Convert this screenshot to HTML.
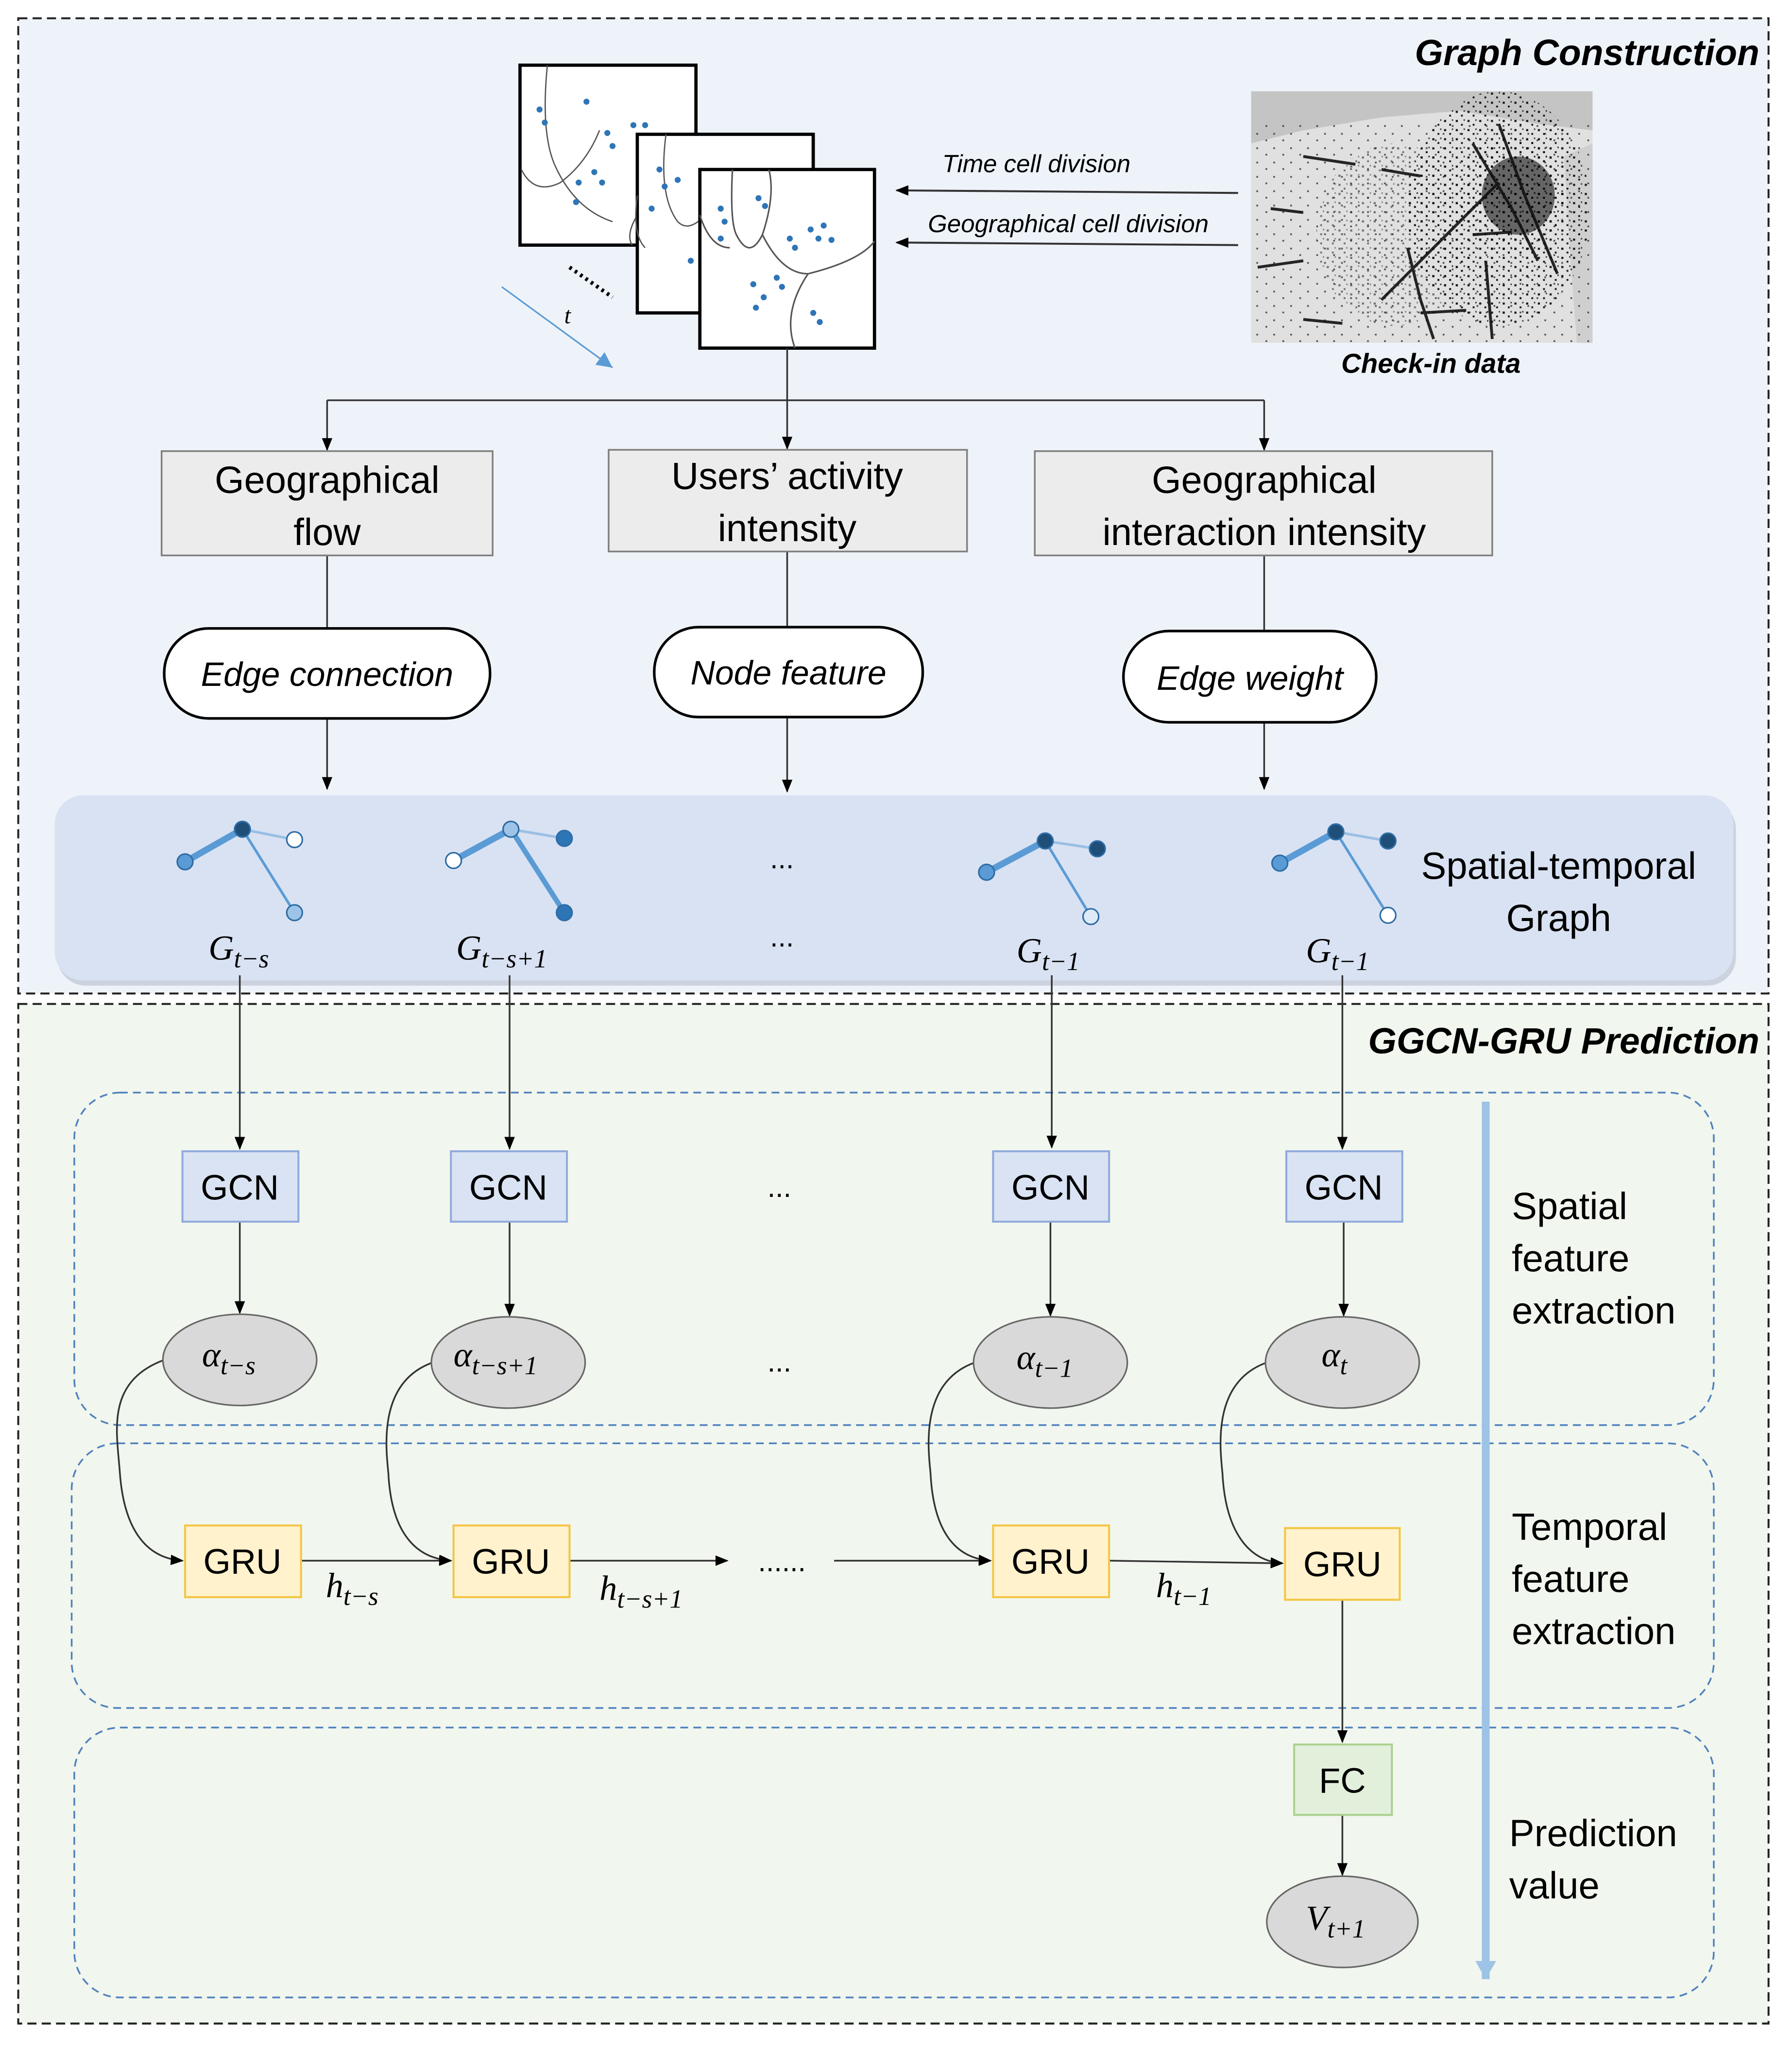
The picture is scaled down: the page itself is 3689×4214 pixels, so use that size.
<!DOCTYPE html>
<html><head><meta charset="utf-8">
<style>
html,body{margin:0;padding:0;background:#fff;}
svg{display:block;}
</style></head>
<body>
<svg width="3689" height="4214" viewBox="0 0 1375 1570" preserveAspectRatio="none" xmlns="http://www.w3.org/2000/svg" font-family="Liberation Sans, DejaVu Sans, sans-serif">
<defs>
<marker id="ar" markerWidth="10" markerHeight="10" refX="9" refY="5" orient="auto" markerUnits="userSpaceOnUse">
<path d="M0,1 L10,5 L0,9 z" fill="#000"/></marker>
<marker id="ab" markerWidth="14" markerHeight="14" refX="12" refY="6" orient="auto" markerUnits="userSpaceOnUse">
<path d="M0,0 L12,6 L0,12 z" fill="#5b9bd5"/></marker>
<marker id="av" markerWidth="16" markerHeight="16" refX="14" refY="8" orient="auto" markerUnits="userSpaceOnUse">
<path d="M0,0 L14,8 L0,16 z" fill="#9dc3e6"/></marker>
<pattern id="dots" width="9" height="7" patternUnits="userSpaceOnUse">
<rect x="1" y="1" width="1.6" height="1.6" fill="#000"/><rect x="5" y="4" width="1.4" height="1.4" fill="#000"/><rect x="7" y="0.5" width="1" height="1.2" fill="#222"/>
</pattern>
<pattern id="dots2" width="13" height="11" patternUnits="userSpaceOnUse">
<rect x="2" y="3" width="1.3" height="1.3" fill="#111"/><rect x="9" y="8" width="1.3" height="1.3" fill="#111"/>
</pattern>
<clipPath id="mapc"><rect x="960" y="70" width="262" height="193"/></clipPath>
</defs>
<rect width="1375" height="1570" fill="#fff"/>
<rect x="14" y="14" width="1343" height="748" fill="#eef3f9" stroke="#222" stroke-width="1.5" stroke-dasharray="7,4"/>
<rect x="14" y="770" width="1343" height="782" fill="#f1f6ee" stroke="#222" stroke-width="1.5" stroke-dasharray="7,4"/>
<text x="1350" y="50" text-anchor="end" font-size="28" font-weight="bold" font-style="italic">Graph Construction</text>
<text x="1350" y="808" text-anchor="end" font-size="28" font-weight="bold" font-style="italic">GGCN-GRU Prediction</text>

<rect x="399" y="50" width="135" height="138" fill="#fff" stroke="#000" stroke-width="2.5"/>
<g fill="none" stroke="#555" stroke-width="1">
<path d="M420 50 Q415 100 425 125 Q440 160 470 170 M400 130 Q410 150 430 140 Q450 125 460 100 M489 165 Q480 180 485 188"/>
</g>
<g fill="#2e75b6">
<circle cx="414" cy="84" r="2.3"/><circle cx="418" cy="94" r="2.3"/><circle cx="450" cy="78" r="2.3"/><circle cx="466" cy="102" r="2.3"/><circle cx="470" cy="112" r="2.3"/><circle cx="486" cy="96" r="2.3"/><circle cx="495" cy="96" r="2.3"/><circle cx="444" cy="140" r="2.3"/><circle cx="456" cy="132" r="2.3"/><circle cx="442" cy="155" r="2.3"/><circle cx="462" cy="140" r="2.3"/>
</g>
<rect x="489" y="103" width="135" height="137" fill="#fff" stroke="#000" stroke-width="2.5"/>
<g fill="none" stroke="#555" stroke-width="1"><path d="M511 103 Q505 150 520 170 Q530 180 545 160 M489 150 Q485 180 495 190"/></g>
<g fill="#2e75b6"><circle cx="506" cy="130" r="2.3"/><circle cx="510" cy="143" r="2.3"/><circle cx="520" cy="138" r="2.3"/><circle cx="500" cy="160" r="2.3"/></g>
<rect x="537" y="130" width="134" height="137" fill="#fff" stroke="#000" stroke-width="2.5"/>
<g fill="none" stroke="#555" stroke-width="1.2">
<path d="M562 130 Q560 170 565 180 Q575 200 585 180 Q595 150 590 130"/>
<path d="M537 165 Q545 190 560 190"/>
<path d="M585 180 Q600 210 620 210 Q660 200 671 185"/>
<path d="M620 210 Q600 240 610 267"/>
</g>
<g fill="#2e75b6">
<circle cx="553" cy="160" r="2.3"/><circle cx="556" cy="170" r="2.3"/><circle cx="582" cy="152" r="2.3"/><circle cx="587" cy="158" r="2.3"/><circle cx="606" cy="183" r="2.3"/><circle cx="610" cy="190" r="2.3"/><circle cx="622" cy="176" r="2.3"/><circle cx="632" cy="173" r="2.3"/><circle cx="628" cy="183" r="2.3"/><circle cx="638" cy="184" r="2.3"/><circle cx="530" cy="200" r="2.3"/><circle cx="578" cy="218" r="2.3"/><circle cx="586" cy="228" r="2.3"/><circle cx="596" cy="213" r="2.3"/><circle cx="600" cy="220" r="2.3"/><circle cx="580" cy="236" r="2.3"/><circle cx="624" cy="240" r="2.3"/><circle cx="629" cy="247" r="2.3"/><circle cx="553" cy="183" r="2.3"/>
</g>
<line x1="437" y1="205" x2="470" y2="228" stroke="#000" stroke-width="3" stroke-dasharray="2,3"/>
<line x1="385" y1="220" x2="470" y2="282" stroke="#5b9bd5" stroke-width="1.2" marker-end="url(#ab)"/>
<text x="433" y="248" font-family="Liberation Serif, serif" font-style="italic" font-size="18">t</text>

<line x1="950" y1="148" x2="688" y2="146" stroke="#333" stroke-width="1.5" marker-end="url(#ar)"/>
<line x1="950" y1="188" x2="688" y2="186" stroke="#333" stroke-width="1.5" marker-end="url(#ar)"/>
<text x="723" y="132" font-size="19" font-style="italic">Time cell division</text>
<text x="712" y="178" font-size="19" font-style="italic">Geographical cell division</text>

<!-- check-in map -->
<g clip-path="url(#mapc)">
<rect x="960" y="70" width="262" height="193" fill="#e0e0e0"/>
<path d="M960 70 L1222 70 L1222 100 L1180 95 L1120 85 L1060 90 L1000 100 L960 110 z" fill="#c4c4c4"/>
<path d="M1200 120 L1222 110 L1222 263 L1210 263 L1205 200 z" fill="#cfcfcf"/>
<rect x="960" y="95" width="262" height="168" fill="url(#dots2)" opacity="0.7"/>
<ellipse cx="1150" cy="160" rx="70" ry="90" fill="url(#dots)" opacity="0.9"/>
<ellipse cx="1160" cy="150" rx="40" ry="45" fill="url(#dots)"/>
<ellipse cx="1165" cy="150" rx="28" ry="30" fill="#000" opacity="0.55"/>
<ellipse cx="1070" cy="180" rx="60" ry="70" fill="url(#dots)" opacity="0.5"/>
<g stroke="#111" stroke-width="2.2" fill="none" opacity="0.9">
<path d="M1150 95 L1170 150 L1195 210"/>
<path d="M1130 110 L1160 160 L1180 200"/>
<path d="M1080 190 L1090 230 L1100 260"/>
<path d="M1000 120 L1040 126"/><path d="M1060 130 L1090 135"/>
<path d="M1060 230 L1110 180 L1150 140"/>
<path d="M975 160 L1000 163"/><path d="M965 205 L1000 200"/><path d="M1090 240 L1125 238"/><path d="M1130 180 L1160 178"/><path d="M1000 245 L1030 248"/>
<path d="M1140 200 L1145 260"/>
</g>
</g>
<text x="1098" y="286" text-anchor="middle" font-size="21" font-weight="bold" font-style="italic">Check-in data</text>

<g stroke="#333" stroke-width="1.3" fill="none">
<line x1="604" y1="267" x2="604" y2="307"/>
<line x1="251" y1="307" x2="970" y2="307"/>
<line x1="251" y1="307" x2="251" y2="345" marker-end="url(#ar)"/>
<line x1="604" y1="307" x2="604" y2="344" marker-end="url(#ar)"/>
<line x1="970" y1="307" x2="970" y2="345" marker-end="url(#ar)"/>
<line x1="251" y1="426" x2="251" y2="482"/>
<line x1="604" y1="423" x2="604" y2="481"/>
<line x1="970" y1="426" x2="970" y2="484"/>
<line x1="251" y1="551" x2="251" y2="605" marker-end="url(#ar)"/>
<line x1="604" y1="550" x2="604" y2="607" marker-end="url(#ar)"/>
<line x1="970" y1="554" x2="970" y2="605" marker-end="url(#ar)"/>
</g>
<g fill="#ececec" stroke="#7f7f7f" stroke-width="1.3">
<rect x="124" y="346" width="254" height="80"/>
<rect x="467" y="345" width="275" height="78"/>
<rect x="794" y="346" width="351" height="80"/>
</g>
<g font-size="29" text-anchor="middle">
<text x="251" y="378">Geographical</text><text x="251" y="418">flow</text>
<text x="604" y="375">Users’ activity</text><text x="604" y="415">intensity</text>
<text x="970" y="378">Geographical</text><text x="970" y="418">interaction intensity</text>
</g>
<g fill="#fff" stroke="#000" stroke-width="2">
<rect x="126" y="482" width="250" height="69" rx="34"/>
<rect x="502" y="481" width="206" height="69" rx="34"/>
<rect x="862" y="484" width="194" height="70" rx="35"/>
</g>
<g font-size="26" font-style="italic" text-anchor="middle">
<text x="251" y="526">Edge connection</text>
<text x="605" y="525">Node feature</text>
<text x="959" y="529">Edge weight</text>
</g>

<rect x="44" y="614" width="1288" height="142" rx="22" fill="#aab4c4" opacity="0.5"/>
<rect x="42" y="610" width="1288" height="142" rx="22" fill="#d9e2f3"/>
<g stroke="#5b9bd5" fill="none">
<g><line x1="142" y1="661" x2="186" y2="636" stroke-width="5"/><line x1="186" y1="636" x2="226" y2="644" stroke-width="2" opacity="0.5"/><line x1="186" y1="636" x2="226" y2="700" stroke-width="2"/></g>
<g><line x1="348" y1="660" x2="392" y2="636" stroke-width="5"/><line x1="392" y1="636" x2="433" y2="643" stroke-width="2" opacity="0.5"/><line x1="392" y1="636" x2="433" y2="700" stroke-width="4"/></g>
<g><line x1="757" y1="669" x2="802" y2="645" stroke-width="5"/><line x1="802" y1="645" x2="842" y2="651" stroke-width="2" opacity="0.5"/><line x1="802" y1="645" x2="837" y2="703" stroke-width="2"/></g>
<g><line x1="982" y1="662" x2="1025" y2="638" stroke-width="5"/><line x1="1025" y1="638" x2="1065" y2="645" stroke-width="2" opacity="0.5"/><line x1="1025" y1="638" x2="1065" y2="702" stroke-width="2"/></g>
</g>
<g stroke="#2e6da4" stroke-width="1.2">
<circle cx="142" cy="661" r="6" fill="#5b9bd5"/><circle cx="186" cy="636" r="6" fill="#1f4e79"/><circle cx="226" cy="644" r="6" fill="#fff"/><circle cx="226" cy="700" r="6" fill="#9dc3e6"/>
<circle cx="348" cy="660" r="6" fill="#fff"/><circle cx="392" cy="636" r="6" fill="#9dc3e6"/><circle cx="433" cy="643" r="6" fill="#2e75b6"/><circle cx="433" cy="700" r="6" fill="#2e75b6"/>
<circle cx="757" cy="669" r="6" fill="#5b9bd5"/><circle cx="802" cy="645" r="6" fill="#1f4e79"/><circle cx="842" cy="651" r="6" fill="#1f4e79"/><circle cx="837" cy="703" r="6" fill="#deebf7"/>
<circle cx="982" cy="662" r="6" fill="#5b9bd5"/><circle cx="1025" cy="638" r="6" fill="#1f4e79"/><circle cx="1065" cy="645" r="6" fill="#1f4e79"/><circle cx="1065" cy="702" r="6" fill="#fff"/>
</g>
<g font-size="27" font-family="Liberation Serif, serif" font-style="italic">
<text x="160" y="736">G<tspan font-size="20" dy="6">t−s</tspan></text>
<text x="350" y="736">G<tspan font-size="20" dy="6">t−s+1</tspan></text>
<text x="780" y="738">G<tspan font-size="20" dy="6">t−1</tspan></text>
<text x="1002" y="738">G<tspan font-size="20" dy="6">t−1</tspan></text>
</g>
<text x="600" y="666" font-size="22" text-anchor="middle">...</text>
<text x="600" y="726" font-size="22" text-anchor="middle">...</text>
<text x="1196" y="674" font-size="29" text-anchor="middle">Spatial-temporal</text>
<text x="1196" y="714" font-size="29" text-anchor="middle">Graph</text>

<g fill="none" stroke="#4f81bd" stroke-width="1.3" stroke-dasharray="6,4">
<rect x="57" y="838" width="1258" height="255" rx="35"/>
<rect x="55" y="1107" width="1260" height="203" rx="35"/>
<rect x="57" y="1325" width="1258" height="207" rx="35"/>
</g>
<line x1="1140" y1="845" x2="1140" y2="1518" stroke="#9dc3e6" stroke-width="6" marker-end="url(#av)"/>

<g stroke="#333" stroke-width="1.3" fill="none">
<line x1="184" y1="748" x2="184" y2="881" marker-end="url(#ar)"/>
<line x1="391" y1="748" x2="391" y2="881" marker-end="url(#ar)"/>
<line x1="807" y1="748" x2="807" y2="880" marker-end="url(#ar)"/>
<line x1="1030" y1="748" x2="1030" y2="881" marker-end="url(#ar)"/>
<line x1="184" y1="937" x2="184" y2="1007" marker-end="url(#ar)"/>
<line x1="391" y1="937" x2="391" y2="1009" marker-end="url(#ar)"/>
<line x1="806" y1="937" x2="806" y2="1009" marker-end="url(#ar)"/>
<line x1="1031" y1="937" x2="1031" y2="1009" marker-end="url(#ar)"/>
<path d="M126 1043 C80 1060 90 1100 92 1130 C95 1170 110 1195 140 1197" marker-end="url(#ar)"/>
<path d="M332 1045 C290 1060 296 1110 298 1130 C300 1170 315 1195 346 1197" marker-end="url(#ar)"/>
<path d="M748 1045 C706 1060 712 1110 714 1130 C716 1170 730 1195 760 1197" marker-end="url(#ar)"/>
<path d="M972 1045 C930 1060 936 1110 938 1130 C940 1170 955 1197 984 1199" marker-end="url(#ar)"/>
<line x1="231" y1="1197" x2="346" y2="1197" marker-end="url(#ar)"/>
<line x1="437" y1="1197" x2="558" y2="1197" marker-end="url(#ar)"/>
<line x1="640" y1="1197" x2="760" y2="1197" marker-end="url(#ar)"/>
<line x1="851" y1="1197" x2="984" y2="1199" marker-end="url(#ar)"/>
<line x1="1030" y1="1227" x2="1030" y2="1336" marker-end="url(#ar)"/>
<line x1="1030" y1="1392" x2="1030" y2="1438" marker-end="url(#ar)"/>
</g>

<g fill="#dae3f3" stroke="#8faadc" stroke-width="1.5">
<rect x="140" y="883" width="89" height="54"/><rect x="346" y="883" width="89" height="54"/>
<rect x="762" y="883" width="89" height="54"/><rect x="987" y="883" width="89" height="54"/>
</g>
<g font-size="27" text-anchor="middle">
<text x="184" y="920">GCN</text><text x="390" y="920">GCN</text><text x="806" y="920">GCN</text><text x="1031" y="920">GCN</text>
</g>
<text x="598" y="918" font-size="22" text-anchor="middle">...</text>
<text x="598" y="1052" font-size="22" text-anchor="middle">...</text>

<g fill="#d9d9d9" stroke="#666" stroke-width="1.2">
<ellipse cx="184" cy="1043" rx="59" ry="35"/><ellipse cx="390" cy="1045" rx="59" ry="35"/>
<ellipse cx="806" cy="1045" rx="59" ry="35"/><ellipse cx="1030" cy="1045" rx="59" ry="35"/>
<ellipse cx="1030" cy="1474" rx="58" ry="35"/>
</g>
<g font-size="27" font-family="Liberation Serif, serif" font-style="italic">
<text x="155" y="1048">α<tspan font-size="20" dy="6">t−s</tspan></text>
<text x="348" y="1048">α<tspan font-size="20" dy="6">t−s+1</tspan></text>
<text x="780" y="1050">α<tspan font-size="20" dy="6">t−1</tspan></text>
<text x="1014" y="1048">α<tspan font-size="20" dy="6">t</tspan></text>
<text x="1002" y="1480">V<tspan font-size="20" dy="6">t+1</tspan></text>
<text x="250" y="1225">h<tspan font-size="20" dy="6">t−s</tspan></text>
<text x="460" y="1227">h<tspan font-size="20" dy="6">t−s+1</tspan></text>
<text x="887" y="1225">h<tspan font-size="20" dy="6">t−1</tspan></text>
</g>
<text x="600" y="1205" font-size="22" text-anchor="middle">......</text>

<g fill="#fff2cc" stroke="#f4c542" stroke-width="1.5">
<rect x="142" y="1170" width="89" height="55"/><rect x="348" y="1170" width="89" height="55"/>
<rect x="762" y="1170" width="89" height="55"/><rect x="986" y="1172" width="88" height="55"/>
</g>
<g font-size="27" text-anchor="middle">
<text x="186" y="1207">GRU</text><text x="392" y="1207">GRU</text><text x="806" y="1207">GRU</text><text x="1030" y="1209">GRU</text>
</g>
<rect x="993" y="1338" width="75" height="54" fill="#e2efda" stroke="#a9d18e" stroke-width="1.5"/>
<text x="1030" y="1375" font-size="27" text-anchor="middle">FC</text>

<g font-size="29">
<text x="1160" y="935">Spatial</text><text x="1160" y="975">feature</text><text x="1160" y="1015">extraction</text>
<text x="1160" y="1181">Temporal</text><text x="1160" y="1221">feature</text><text x="1160" y="1261">extraction</text>
<text x="1158" y="1416">Prediction</text><text x="1158" y="1456">value</text>
</g>
</svg>
</body></html>
